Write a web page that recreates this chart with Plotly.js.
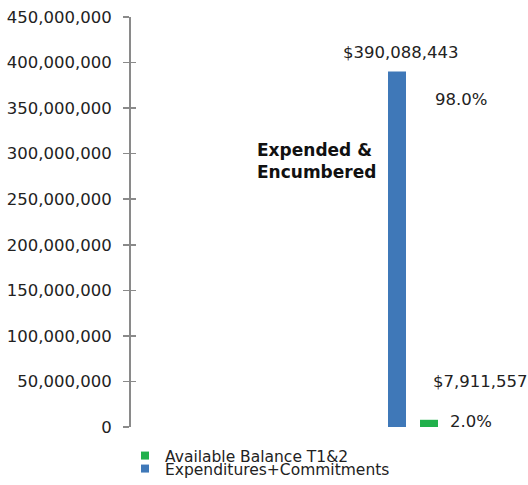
<!DOCTYPE html>
<html><head><meta charset="utf-8">
<script src="https://cdn.plot.ly/plotly-3.0.1.min.js"></script>
<style>html,body{margin:0;padding:0;background:#fff}#chart{width:528px;height:485px}</style>
</head><body><div id="chart"></div>
<script>
const categories = ["Total"];
const seriesNames = ["Expenditures+Commitments", "Available Balance T1&2"];
const expenditures = [390088443];
const available = [7911557];
const valueLabels = ["$390,088,443", "$7,911,557"];
const percentLabels = ["98.0%", "2.0%"];
const sideLabel = "Expended &<br>Encumbered";
const yTickVals = [0, 50000000, 100000000, 150000000, 200000000, 250000000, 300000000, 350000000, 400000000, 450000000];
const yTickText = ["0", "50,000,000", "100,000,000", "150,000,000", "200,000,000", "250,000,000", "300,000,000", "350,000,000", "400,000,000", "450,000,000"];
const colors = ["#3f78b8", "#21b04b"];

const FONT = "DejaVu Sans, sans-serif";
const txt = "#222";

const traces = [
  {type: "bar", x: categories, y: expenditures, name: seriesNames[0], marker: {color: colors[0]}, showlegend: false, hoverinfo: "skip"},
  {type: "bar", x: categories, y: available, name: seriesNames[1], marker: {color: colors[1]}, showlegend: false, hoverinfo: "skip"},
  {type: "scatter", mode: "markers", x: [null], y: [null], yaxis: "y2", name: seriesNames[1], legend: "legend",
   marker: {symbol: "square", size: 8, color: colors[1]}},
  {type: "scatter", mode: "markers", x: [null], y: [null], yaxis: "y2", name: seriesNames[0], legend: "legend2",
   marker: {symbol: "square", size: 8, color: colors[0]}}
];

const annFont = {family: FONT, size: 16.5, color: txt};
const annotations = [
  {x: categories[0], y: expenditures[0], xref: "x", yref: "y", text: valueLabels[0], showarrow: false, xshift: -13, yshift: 19, yanchor: "middle", font: annFont},
  {x: categories[0], y: expenditures[0], xref: "x", yref: "y", text: percentLabels[0], showarrow: false, xshift: 48, yshift: -28, yanchor: "middle", font: annFont},
  {x: categories[0], y: available[0], xref: "x", yref: "y", text: valueLabels[1], showarrow: false, xshift: 67, yshift: 38, yanchor: "middle", font: annFont},
  {x: categories[0], y: available[0], xref: "x", yref: "y", text: percentLabels[1], showarrow: false, xshift: 58, yshift: -2, yanchor: "middle", font: annFont},
  {x: categories[0], y: 0.6476, xref: "x", yref: "paper", text: sideLabel, showarrow: false, xanchor: "left", xshift: -158, yanchor: "middle", align: "left",
   font: {family: FONT, size: 17, color: "#111", weight: "bold"}}
];

const legFont = {family: FONT, size: 15.5, color: txt};
const layout = {
  width: 528, height: 485,
  margin: {l: 131, r: 18, t: 17, b: 58, pad: 0, autoexpand: false},
  paper_bgcolor: "#fff", plot_bgcolor: "#fff",
  barmode: "group", bargap: 0.2, bargroupgap: 0.4375,
  font: {family: FONT, color: txt},
  xaxis: {type: "category", range: [-3.525, 1.2125], showticklabels: false, showline: false, ticks: "", showgrid: false, zeroline: false, fixedrange: true},
  yaxis: {range: [0, 450000000], tickmode: "array", tickvals: yTickVals, ticktext: yTickText,
    ticks: "outside", ticklen: 6, tickwidth: 1.5, tickcolor: "#8a8a8a", ticklabelstandoff: 8,
    showline: true, linecolor: "#8a8a8a", linewidth: 2, showgrid: false, zeroline: false,
    tickfont: {family: FONT, size: 16.5, color: txt}},
  yaxis2: {overlaying: "y", side: "left", range: [0, 450000000], tickmode: "array", tickvals: yTickVals,
    ticks: "inside", ticklen: 5, tickwidth: 1.5, tickcolor: "#8a8a8a", showticklabels: false,
    showline: false, showgrid: false, zeroline: false},
  legend: {xref: "paper", x: -0.0158, xanchor: "left", yref: "paper", y: -0.0707, yanchor: "middle",
    font: legFont, bgcolor: "rgba(0,0,0,0)", borderwidth: 0},
  legend2: {xref: "paper", x: -0.0158, xanchor: "left", yref: "paper", y: -0.1024, yanchor: "middle",
    font: legFont, bgcolor: "rgba(0,0,0,0)", borderwidth: 0},
  annotations: annotations
};

Plotly.newPlot("chart", traces, layout, {staticPlot: true, displayModeBar: false});
</script>
</body></html>
